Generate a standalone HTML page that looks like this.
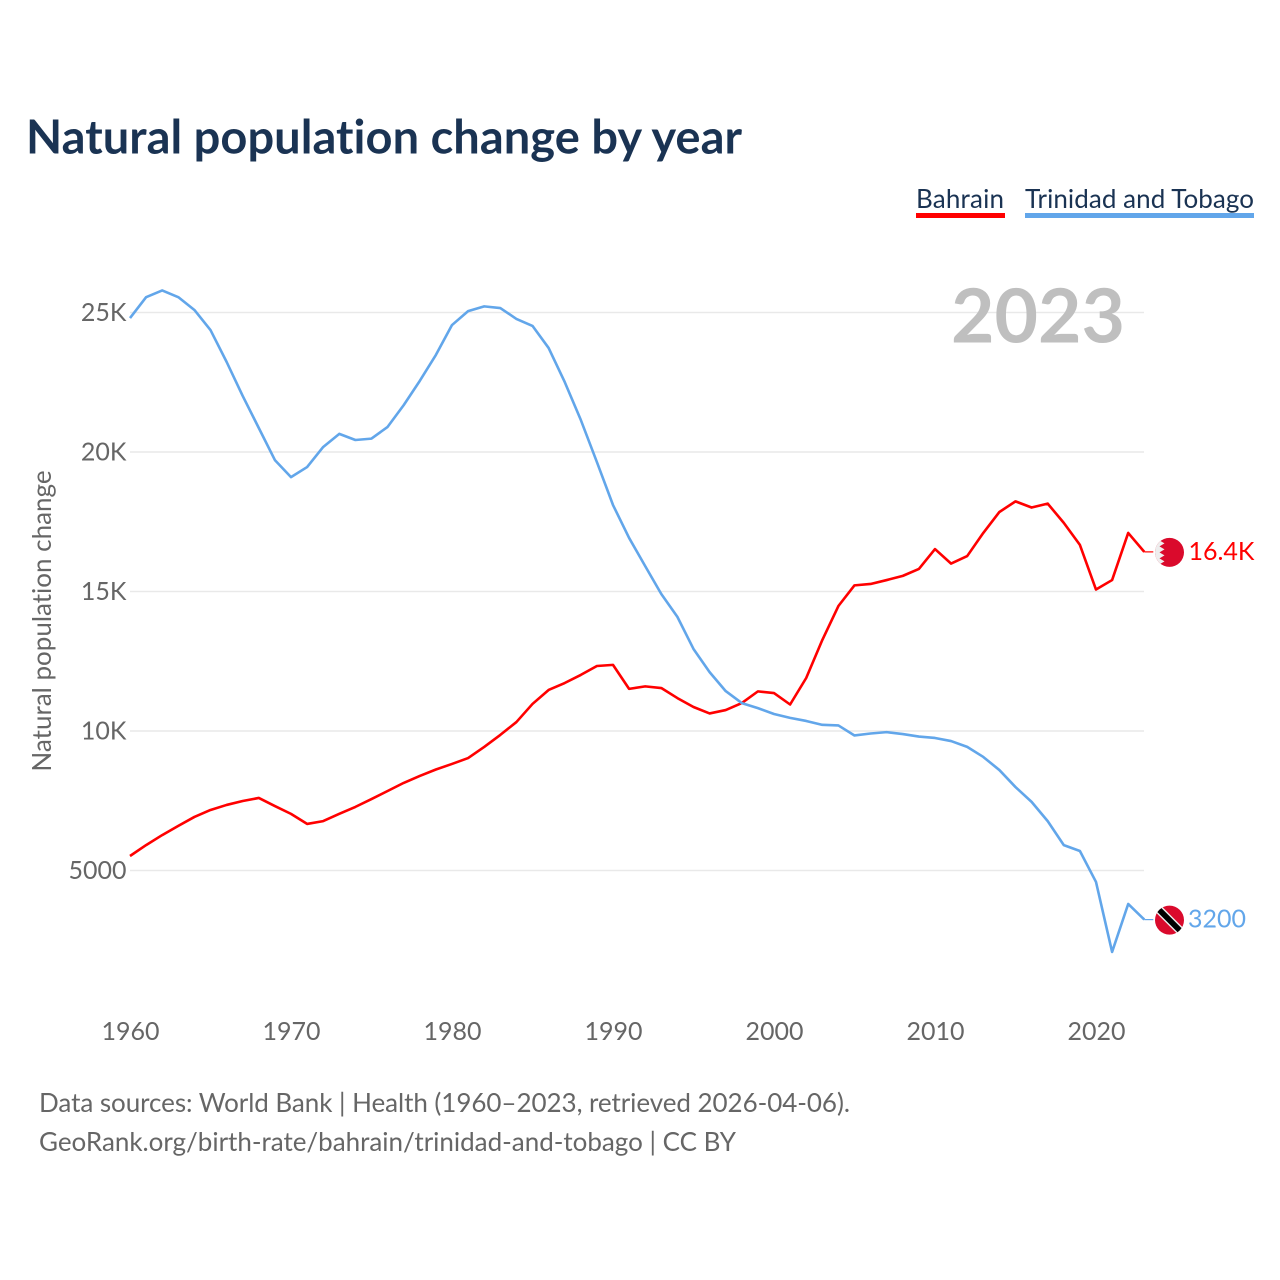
<!DOCTYPE html>
<html lang="en">
<head>
<meta charset="utf-8">
<title>Natural population change by year</title>
<style>
html,body{margin:0;padding:0;background:#fff;}
svg{display:block;font-family:"Lato","Carlito","Liberation Sans",sans-serif;font-variant-ligatures:none;}
</style>
</head>
<body>
<svg id="chart" width="1280" height="1280" viewBox="0 0 1280 1280" xmlns="http://www.w3.org/2000/svg">
<defs>
<clipPath id="flag-clip"><circle cx="0" cy="0" r="14.5"></circle></clipPath>
</defs>
<rect width="1280" height="1280" fill="#fff"></rect>
<text x="26" y="153.5" font-size="47" font-weight="700" fill="#1a3353" textLength="716">Natural population change by year</text>
<g id="legend">
<g>
<text x="916" y="208" font-size="26" fill="#1a3353" textLength="88">Bahrain</text>
<rect x="916" y="213" width="89" height="5" fill="#ff0000"></rect>
</g>
<g>
<text x="1025" y="208" font-size="26" fill="#1a3353" textLength="229">Trinidad and Tobago</text>
<rect x="1025" y="213" width="229" height="5" fill="#62a6ea"></rect>
</g>
</g>
<g id="grid"></g>
<text x="1125" y="342.5" font-size="75" font-weight="700" fill="#bfbfbf" text-anchor="end">2023</text>
<g id="y-axis"></g>
<g id="x-axis"></g>
<text transform="translate(51,621) rotate(-90)" font-size="26" fill="#666" text-anchor="middle">Natural population change</text>
<g id="series"></g>
<g id="flag-bahrain">
<g clip-path="url(#flag-clip)">
<rect x="-15" y="-15" width="30" height="30" fill="#da0a2c"></rect>
<polygon points="-15,-15 -5,-15 -10,-12 -5,-9 -10,-6 -5,-3 -10,0 -5,3 -10,6 -5,9 -10,12 -5,15 -15,15" fill="#eeeeee"></polygon>
</g>
</g>
<g id="flag-trinidad">
<g clip-path="url(#flag-clip)">
<rect x="-15" y="-15" width="30" height="30" fill="#da0a2c"></rect>
<polygon points="-16,-10 -10,-16 16,10 10,16" fill="#eeeeee"></polygon>
<polygon points="-14,-10 -10,-14 14,10 10,14" fill="#000"></polygon>
</g>
</g>
<text x="39" y="1112" font-size="26" fill="#666" textLength="811">Data sources: World Bank | Health (1960–2023, retrieved 2026-04-06).</text>
<text x="39" y="1151" font-size="26" fill="#666" textLength="697">GeoRank.org/birth-rate/bahrain/trinidad-and-tobago | CC BY</text>
</svg>
<script>
const startYear = 1960;
const bahrainValues = [5520,5910,6270,6600,6920,7170,7350,7490,7600,7310,7030,6670,6770,7030,7280,7560,7850,8140,8390,8620,8820,9030,9430,9860,10320,10970,11470,11720,12010,12330,12370,11510,11600,11540,11180,10860,10630,10750,11000,11420,11360,10950,11900,13260,14480,15220,15270,15410,15560,15810,16520,16000,16270,17100,17850,18230,18010,18150,17460,16670,15070,15410,17100,16420];
const trinidadValues = [24800,25550,25790,25550,25090,24370,23230,22010,20860,19710,19100,19460,20180,20650,20430,20480,20900,21680,22550,23480,24550,25050,25220,25160,24770,24520,23730,22510,21150,19640,18100,16920,15910,14910,14090,12940,12110,11430,11000,10820,10610,10470,10360,10220,10200,9840,9910,9960,9890,9800,9750,9640,9430,9070,8600,7990,7460,6770,5910,5700,4590,2080,3800,3240];
const yTicks = [5000,10000,15000,20000,25000];
const yTickLabels = ["5000","10K","15K","20K","25K"];
const xTicks = [1960,1970,1980,1990,2000,2010,2020];
const endLabels = ["16.4K","3200"];

const SVG_NS = "http://www.w3.org/2000/svg";
function xScale(year){ return 130 + (year - 1960) * 16.1; }
function yScale(v){ return 870.5 - (v - 5000) * 0.0279; }
function make(tag, attrs, parent){
  const el = document.createElementNS(SVG_NS, tag);
  Object.keys(attrs).forEach(function(k){ el.setAttribute(k, attrs[k]); });
  parent.appendChild(el);
  return el;
}
const grid = document.getElementById("grid");
const yAxis = document.getElementById("y-axis");
const xAxis = document.getElementById("x-axis");
const series = document.getElementById("series");

yTicks.forEach(function(t, i){
  const line = make("line", {x1:130, x2:1144, y1:yScale(t), y2:yScale(t), stroke:"#e9e9e9", "stroke-width":1.5}, grid);
  
  
  const label = make("text", {x:126.5, y:yScale(t)+8.5, "font-size":25, fill:"#666", "text-anchor":"end"}, yAxis);
  label.textContent = yTickLabels[i];
  
  
});
xTicks.forEach(function(t){
  const label = make("text", {x:xScale(t) + 0.5, y:1040, "font-size":25, fill:"#666", "text-anchor":"middle"}, xAxis);
  label.textContent = t;
  
  
});
function drawSeries(values, color, labelText, flagId, labelX){
  const pts = values.map(function(v, i){ return xScale(startYear + i).toFixed(2) + "," + yScale(v).toFixed(2); }).join(" ");
  const line = make("polyline", {points:pts, fill:"none", stroke:color, "stroke-width":2.6, "stroke-linejoin":"round"}, series);
  
  
  const endX = xScale(startYear + values.length - 1);
  const endY = yScale(values[values.length - 1]);
  const connector = make("line", {x1:endX, x2:endX + 9, y1:endY, y2:endY, stroke:color, "stroke-width":1.2}, series);
  
  
  document.getElementById(flagId).setAttribute("transform", "translate(1169.5," + (endY + 0.5).toFixed(2) + ")");
  const label = make("text", {x:labelX, y:endY + 8, "font-size":25, fill:color}, series);
  label.textContent = labelText;
  
  
}
drawSeries(bahrainValues, "#ff0000", endLabels[0], "flag-bahrain", 1188.5);
drawSeries(trinidadValues, "#62a6ea", endLabels[1], "flag-trinidad", 1188);
</script>
</body>
</html>
